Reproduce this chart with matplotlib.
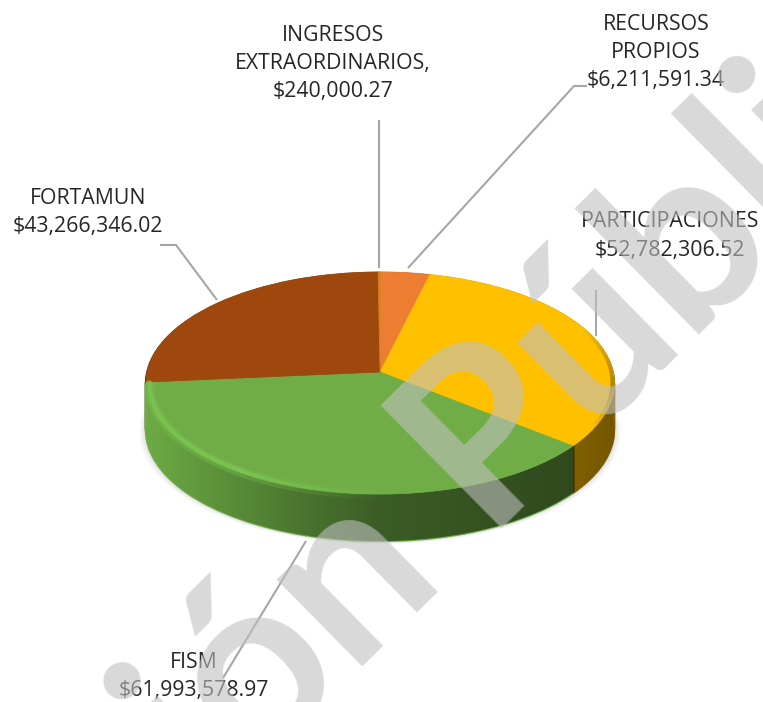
import numpy as np
import matplotlib
matplotlib.use('Agg')
import matplotlib.pyplot as plt
from matplotlib.path import Path
from matplotlib.transforms import Transform
from matplotlib.collections import LineCollection

plt.rcParams['font.family'] = ['Open Sans', 'DejaVu Sans']

# datos del pastel, en el orden de las manecillas desde arriba
names = ['RECURSOS\nPROPIOS', 'PARTICIPACIONES', 'FISM', 'FORTAMUN', 'INGRESOS\nEXTRAORDINARIOS,']
values = [6211591.34, 52782306.52, 61993578.97, 43266346.02, 240000.27]
value_labels = ['$6,211,591.34', '$52,782,306.52', '$61,993,578.97', '$43,266,346.02', '$240,000.27']
top_colors = ['#ed7d31', '#ffc000', '#70ad47', '#9e480e', '#c9871c']
side_colors = ['#8c4a1d', '#7f6000', '#6fae46', '#5e2b08', '#636363']

CX, CY = 380, 372
RX, RY, K = 233, 110, 0.099
DEPTH = 47

label_x = [656, 670, 194, 88, 333]
label_y = [52.5, 236, 676.5, 212.5, 63.5]
leaders = [
    ([408, 574, 587], [268, 86, 86]),
    ([596, 596], [290, 336]),
    ([306, 223], [541, 678]),
    ([160, 176, 217], [245, 245, 300]),
    ([379, 379], [120, 268]),
]


def project(u, v, dy=0):
    w = 1 + K * v
    return CX + RX * u / w, CY - RY * v / w + dy


class Tilt(Transform):
    # perspectiva del disco unitario a pixeles
    input_dims = 2
    output_dims = 2

    def __init__(self, dy=0):
        super().__init__()
        self.dy = dy

    def transform_non_affine(self, values):
        x, y = project(values[:, 0], values[:, 1], self.dy)
        return np.column_stack([x, y])


def draw_pie(colors, dy, lw, z):
    wedges, _ = ax.pie(values, colors=colors, startangle=90, counterclock=False, normalize=True,
                       wedgeprops={'transform': Tilt(dy) + ax.transData, 'linewidth': lw, 'zorder': z})
    for w in wedges:
        w.set_edgecolor(w.get_facecolor())


def rim(a0, a1, radius, dy, rgb, alphas, width, z):
    # linea sobre el borde del disco, con transparencia variable
    t = np.radians(np.linspace(a0, a1, 120))
    bx, by = project(radius * np.cos(t), radius * np.sin(t), dy)
    segs = np.stack([np.column_stack([bx[:-1], by[:-1]]), np.column_stack([bx[1:], by[1:]])], axis=1)
    fade = np.interp(np.linspace(0, 1, len(segs)), [0, 0.6, 1], alphas)
    ax.add_collection(LineCollection(segs, colors=[(*rgb, f) for f in fade], linewidths=width, zorder=z))


fig = plt.figure(figsize=(7.63, 7.02), dpi=100)
ax = fig.add_axes([0, 0, 1, 1])

# sombra suave
for grow, a in zip([7, 5, 3, 1], [0.02, 0.03, 0.04, 0.05]):
    t = np.linspace(0, 2 * np.pi, 200)
    sx, sy = project(np.cos(t), np.sin(t), DEPTH + 1)
    ax.fill(CX + (sx - CX) * (1 + grow / 233), sy + grow * 0.3, color='k', alpha=a, lw=0, zorder=1)

# pared lateral
for d in range(DEPTH, 0, -2):
    draw_pie(side_colors, d, 1.5, 2)

t = np.linspace(np.pi, 2 * np.pi, 200)
x1, y1 = project(np.cos(t), np.sin(t))
x2, y2 = project(np.cos(t), np.sin(t), DEPTH)
wall = Path(np.column_stack([np.r_[x1, x2[::-1]], np.r_[y1, y2[::-1]]]))
xs = np.arange(140, 620)
shade = np.interp(xs, [146, 200, 300, 380, 573, 575, 613], [0.02, 0.13, 0.33, 0.47, 0.58, 0.0, 0.1])
rgba = np.zeros((1, len(xs), 4))
rgba[0, :, 3] = shade
im = ax.imshow(rgba, extent=(140, 620, 560, 300), aspect='auto', zorder=3, interpolation='bilinear')
im.set_clip_path(wall, ax.transData)

# cara superior
draw_pie(top_colors, 0, 0.5, 4)

# brillo y sombra del borde
rim(184, 272, 0.985, 2, (0.49, 0.79, 0.33), [0.35, 0.35, 0.0], 7, 5)
rim(184, 272, 0.985, 1, (0.49, 0.79, 0.33), [0.7, 0.7, 0.0], 3, 5)
rim(25, -30, 0.992, 0, (0, 0, 0), [0.0, 0.35, 0.0], 2.5, 5)

for (lx, ly) in leaders:
    ax.plot(lx, ly, color='#a6a6a6', lw=1.5, zorder=6, solid_capstyle='butt')

for name, val, x, y in zip(names, value_labels, label_x, label_y):
    ax.text(x, y, name + '\n' + val, ha='center', va='center', fontsize=15.3,
            color='#262626', linespacing=1.45, zorder=7)

# marca de agua encima de todo
ax.text(405, 530, 'Versión Pública', ha='center', va='center', rotation=44.6, rotation_mode='anchor',
        fontsize=171, color='#c0c0c0', alpha=0.6, zorder=10, family='Lato', fontweight='bold', clip_on=True)

ax.set_aspect('auto')
ax.set_xlim(0, 763)
ax.set_ylim(702, 0)
ax.axis('off')
fig.savefig('out.png', dpi=100, facecolor='white')
